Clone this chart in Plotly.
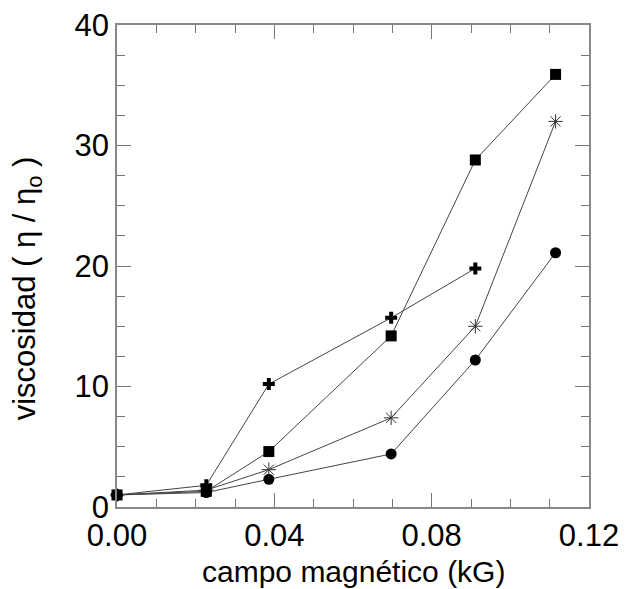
import plotly.graph_objects as go

campo = [0.0, 0.0227, 0.0386, 0.0697, 0.0911, 0.1115]
visc_cuadrado = [1.0, 1.3, 4.6, 14.2, 28.8, 35.9]
visc_asterisco = [1.0, 1.4, 3.1, 7.4, 15.0, 32.0]
visc_circulo = [1.0, 1.2, 2.3, 4.4, 12.2, 21.1]
campo_cruz = [0.0, 0.0227, 0.0386, 0.0697, 0.0911]
visc_cruz = [1.0, 1.8, 10.2, 15.7, 19.8]

x_ticks = [0.0, 0.04, 0.08, 0.12]
x_ticklabels = ["0.00", "0.04", "0.08", "0.12"]
y_ticks = [0, 10, 20, 30, 40]
x_title = "campo magnético (kG)"
y_title = "viscosidad ( η / η<sub>o</sub> )"

line_style = dict(color="#444444", width=1)
fig = go.Figure()
fig.add_trace(go.Scatter(x=campo, y=visc_circulo, mode="lines+markers", line=line_style,
                         marker=dict(symbol="circle", size=11, color="black"), cliponaxis=False))
fig.add_trace(go.Scatter(x=campo, y=visc_asterisco, mode="lines+markers", line=line_style,
                         marker=dict(symbol="asterisk-open", size=12, color="#333333",
                                     line=dict(width=1, color="#333333")), cliponaxis=False))
fig.add_trace(go.Scatter(x=campo_cruz, y=visc_cruz, mode="lines+markers", line=line_style,
                         marker=dict(symbol="cross", size=10, color="black"), cliponaxis=False))
fig.add_trace(go.Scatter(x=campo, y=visc_cuadrado, mode="lines+markers", line=line_style,
                         marker=dict(symbol="square", size=11, color="black"), cliponaxis=False))

font_fam = "Liberation Sans, Arial, sans-serif"
fig.update_layout(
    width=625, height=581,
    margin=dict(l=109, r=44, t=17, b=82),
    plot_bgcolor="white", paper_bgcolor="white",
    showlegend=False,
    font=dict(family=font_fam, color="black"),
)
fig.update_xaxes(
    range=[0, 0.12], tickvals=x_ticks, ticktext=x_ticklabels,
    ticks="inside", ticklen=14, tickcolor="#777777", tickwidth=1,
    showline=True, linecolor="#888888", linewidth=1.5, mirror="ticks",
    showgrid=False, zeroline=False, automargin=False, ticklabeloverflow="allow",
    tickfont=dict(size=31, family=font_fam),
    minor=dict(dtick=0.01, ticks="inside", ticklen=8, tickcolor="#777777", showgrid=False),
)
fig.update_yaxes(
    range=[0, 40], tickvals=y_ticks,
    ticks="inside", ticklen=14, tickcolor="#777777", tickwidth=1,
    showline=True, linecolor="#888888", linewidth=1.5, mirror="ticks",
    showgrid=False, zeroline=False, automargin=False, ticklabeloverflow="allow",
    tickfont=dict(size=31, family=font_fam),
    minor=dict(dtick=2.5, ticks="inside", ticklen=8, tickcolor="#777777", showgrid=False),
)
fig.add_annotation(text=x_title, xref="paper", yref="paper", x=0.5, y=-0.1328,
                   xanchor="center", yanchor="middle", showarrow=False,
                   font=dict(size=30, family=font_fam, color="black"))
fig.add_annotation(text=y_title, xref="paper", yref="paper", x=-0.1900, y=0.4544,
                   xanchor="center", yanchor="middle", showarrow=False, textangle=-90,
                   font=dict(size=31, family=font_fam, color="black"))
fig.write_html("out.html")
